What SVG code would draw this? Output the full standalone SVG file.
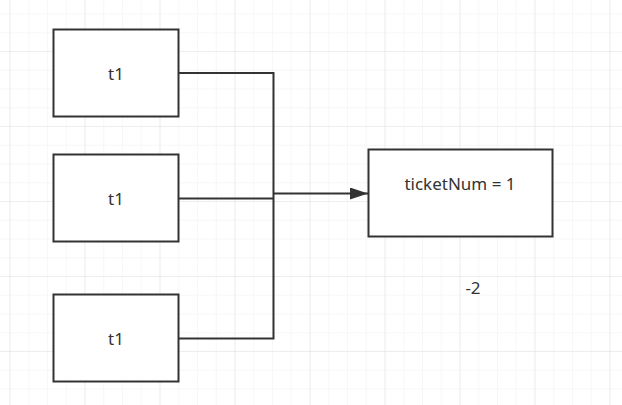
<svg xmlns="http://www.w3.org/2000/svg" width="622" height="405" viewBox="0 0 622 405">
  <defs>
    <pattern id="minor" x="9.5" y="13.5" width="18.75" height="18.75" patternUnits="userSpaceOnUse">
      <path d="M0 0 H18.75 M0 0 V18.75" fill="none" stroke="#f0f0f0" stroke-width="1"/>
    </pattern>
    <pattern id="major" x="9.5" y="-24" width="75" height="75" patternUnits="userSpaceOnUse">
      <path d="M0 0 H75 M0 0 V75" fill="none" stroke="#e3e3e3" stroke-width="1"/>
    </pattern>
    <marker id="arrow" markerWidth="18" markerHeight="12" refX="18" refY="6" orient="auto" markerUnits="userSpaceOnUse">
      <path d="M0 0 L18 6 L0 12 Z" fill="#333333"/>
    </marker>
  </defs>
  <style>
    .node rect { fill: #ffffff; stroke: #333333; stroke-width: 2; }
    .label { font-family: "Noto Sans", "Open Sans", sans-serif; font-size: 17px; fill: #333333; text-anchor: middle; dominant-baseline: central; }
    .edge { fill: none; stroke: #333333; stroke-width: 2; }
  </style>
  <rect width="622" height="405" fill="#ffffff"/>
  <rect width="622" height="405" fill="url(#minor)"/>
  <rect width="622" height="405" fill="url(#major)"/>

  <g id="connectors">
    <polyline class="edge" points="178.5,73 273.5,73 273.5,338.5 178.5,338.5"/>
    <line class="edge" x1="178.5" y1="198.5" x2="273.5" y2="198.5"/>
    <line class="edge" x1="273.5" y1="193.5" x2="368" y2="193.5" marker-end="url(#arrow)"/>
  </g>

  <g id="node-t1-a" class="node">
    <rect x="53.5" y="29.5" width="125" height="87"/>
    <text class="label" x="116" y="73">t1</text>
  </g>
  <g id="node-t1-b" class="node">
    <rect x="53.5" y="154.5" width="125" height="87"/>
    <text class="label" x="116" y="198">t1</text>
  </g>
  <g id="node-t1-c" class="node">
    <rect x="53.5" y="294.5" width="125" height="87"/>
    <text class="label" x="116" y="338">t1</text>
  </g>
  <g id="node-ticket" class="node">
    <rect x="368.5" y="149.5" width="184" height="87"/>
    <text class="label" x="460" y="183.5">ticketNum = 1</text>
  </g>
  <g id="label-minus2">
    <text class="label" x="473" y="287.5">-2</text>
  </g>
</svg>
